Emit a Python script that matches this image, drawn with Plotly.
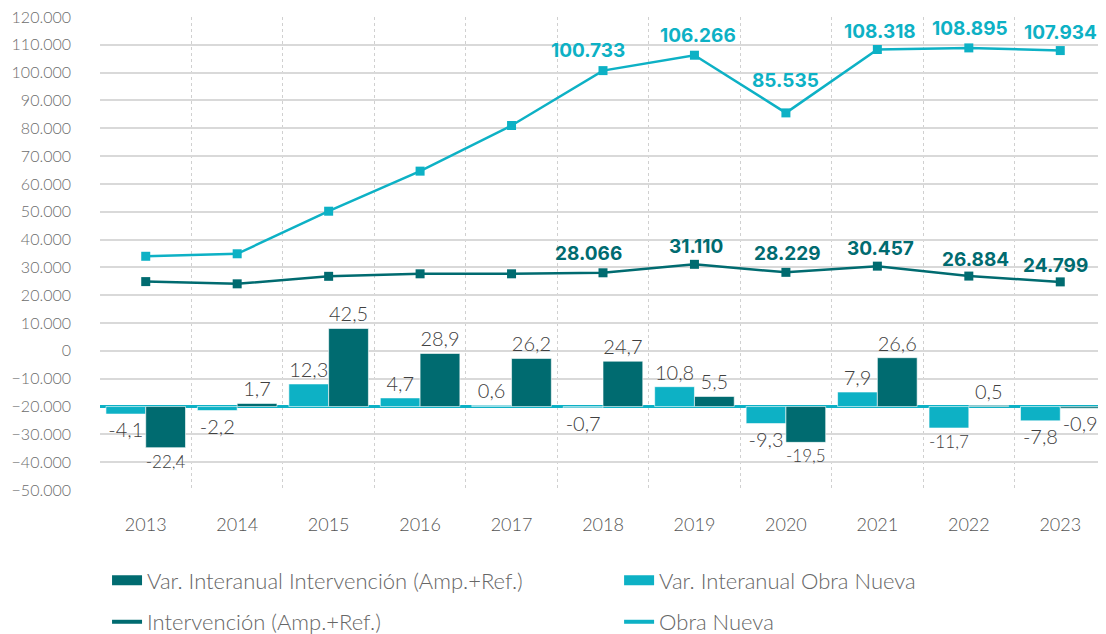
import plotly.graph_objects as go

years = ["2013", "2014", "2015", "2016", "2017", "2018", "2019", "2020", "2021", "2022", "2023"]
obra_nueva = [34000, 34900, 50200, 64600, 81000, 100733, 106266, 85535, 108318, 108895, 107934]
intervencion = [24900, 24100, 26800, 27700, 27700, 28066, 31110, 28229, 30457, 26884, 24799]
var_obra_nueva = [-4.1, -2.2, 12.3, 4.7, 0.6, -0.7, 10.8, -9.3, 7.9, -11.7, -7.8]
var_intervencion = [-22.4, 1.7, 42.5, 28.9, 26.2, 24.7, 5.5, -19.5, 26.6, 0.5, -0.9]
labelled_from = "2018"

# label offsets (px) of the value labels relative to their points (style only)
on_xshift = {"2018": -15, "2019": 4, "2020": 0, "2021": 3, "2022": 1, "2023": 0}
on_yshift = {"2018": 20, "2019": 20, "2020": 32, "2021": 18, "2022": 19, "2023": 18}
iv_xshift = {"2018": -15, "2019": 2, "2020": 2, "2021": 3, "2022": 7, "2023": -5}
iv_yshift = {"2018": 19, "2019": 18, "2020": 19, "2021": 18, "2022": 17, "2023": 16}

DARK = "#006B70"
LIGHT = "#0DB1C5"
LIGHT_FONT = dict(family="Lato", weight=300)
BOLD_FONT = "Inter"

NAME_VAR_IV = "Var. Interanual Intervención (Amp.+Ref.)"
NAME_VAR_ON = "Var. Interanual Obra Nueva"
NAME_IV = "Intervención (Amp.+Ref.)"
NAME_ON = "Obra Nueva"


def fmt_thousands(v):
    return f"{v:,.0f}".replace(",", ".")


fig = go.Figure()

fig.add_trace(go.Bar(
    x=years, y=var_obra_nueva, name=NAME_VAR_ON, yaxis="y2", showlegend=False,
    marker=dict(color=LIGHT, line=dict(color="rgba(255,255,255,0.6)", width=1)),
    texttemplate="%{y:.1f}", textposition="outside", cliponaxis=False,
    textfont=dict(size=20, color="#404040", **LIGHT_FONT),
))
fig.add_trace(go.Bar(
    x=years, y=var_intervencion, name=NAME_VAR_IV, yaxis="y2", showlegend=False,
    marker=dict(color=DARK, line=dict(color="rgba(255,255,255,0.6)", width=1)),
    texttemplate="%{y:.1f}", textposition="outside", cliponaxis=False,
    textfont=dict(size=20, color="#404040", **LIGHT_FONT),
))
fig.add_trace(go.Scatter(
    x=years, y=intervencion, name=NAME_IV, mode="lines+markers", showlegend=False,
    line=dict(color=DARK, width=2.5), marker=dict(symbol="square", size=9, color=DARK),
    cliponaxis=False,
))
fig.add_trace(go.Scatter(
    x=years, y=obra_nueva, name=NAME_ON, mode="lines+markers", showlegend=False,
    line=dict(color=LIGHT, width=2.5), marker=dict(symbol="square", size=9, color=LIGHT),
    cliponaxis=False,
))

# legend entries (swatch styles as in the reference legend)
for name, color, width, lg in [(NAME_VAR_IV, DARK, 14, "legend"), (NAME_VAR_ON, LIGHT, 14, "legend2"),
                               (NAME_IV, DARK, 4, "legend3"), (NAME_ON, LIGHT, 4, "legend4")]:
    fig.add_trace(go.Scatter(
        x=[None], y=[None], name=name, mode="lines",
        line=dict(color=color, width=width), legend=lg, showlegend=True, hoverinfo="skip",
    ))

for vals, color, xs, ys in [(obra_nueva, LIGHT, on_xshift, on_yshift),
                            (intervencion, DARK, iv_xshift, iv_yshift)]:
    for i, (yr, v) in enumerate(zip(years, vals)):
        if yr >= labelled_from:
            fig.add_annotation(
                x=i, y=v, xref="x", yref="y", text=fmt_thousands(v), showarrow=False,
                xanchor="center", yanchor="middle", xshift=xs[yr], yshift=ys[yr],
                font=dict(size=19, color=color, family=BOLD_FONT, weight=700),
            )

# The page body has an 8px margin; the figure is sized/placed to compensate.
W, H = 1098, 626
L, T = 92, 9
PLOT_H = 472.6
B = H - T - PLOT_H


def leg(x, y):
    return dict(
        orientation="h", xanchor="left", yanchor="middle", x=x, y=y,
        font=dict(size=22, color="#666666", **LIGHT_FONT),
        bgcolor="rgba(0,0,0,0)",
    )


fig.update_layout(
    width=W, height=H,
    margin=dict(l=L, r=0, t=T, b=B, autoexpand=False),
    paper_bgcolor="white", plot_bgcolor="white",
    separators=",.",
    font=dict(color="#666666", **LIGHT_FONT),
    barmode="group", bargap=0.13, bargroupgap=0,
    showlegend=True,
    legend=leg(0.007, -0.1913),
    legend2=leg(0.516, -0.1913),
    legend3=leg(0.007, -0.2790),
    legend4=leg(0.516, -0.2790),
    xaxis=dict(
        type="category", range=[-0.5, 10.5], autorange=False,
        showgrid=True, tickson="boundaries",
        gridcolor="#d0d0d0", griddash="dot", gridwidth=1,
        showline=False, ticks="", ticklabelstandoff=22, automargin=False,
        tickfont=dict(size=18, color="#555555", **LIGHT_FONT),
    ),
    yaxis=dict(
        range=[-50000, 120000], dtick=10000, tickformat=",.0f",
        showgrid=True, gridcolor="#d9d9d9", gridwidth=1.5, automargin=False,
        zeroline=False, showline=False, ticks="", ticklabelstandoff=28,
        ticklabeloverflow="allow",
        tickfont=dict(size=16, color="#6d6d6d", **LIGHT_FONT),
    ),
    yaxis2=dict(
        overlaying="y", side="right", range=[-45.45, 212.12],
        showgrid=False, showticklabels=False, ticks="", automargin=False,
        zeroline=True, zerolinecolor=LIGHT, zerolinewidth=2.5,
    ),
)

fig.write_html("out.html")
